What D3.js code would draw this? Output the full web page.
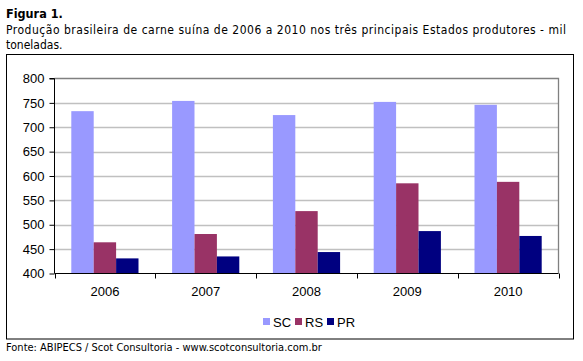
<!DOCTYPE html>
<html>
<head>
<meta charset="utf-8">
<script src="https://cdn.jsdelivr.net/npm/d3@7"></script>
<style>
  body { margin: 0; background: #fff; }
  svg { display: block; }
</style>
</head>
<body>
<svg id="chart" width="583" height="361"></svg>
<script>
const years = ["2006", "2007", "2008", "2009", "2010"];
const series = ["SC", "RS", "PR"];
const scValues = [733, 754, 725, 752, 746];
const rsValues = [464, 481, 528, 585, 588];
const prValues = [431, 435, 444, 487, 477];
const yTicks = [400, 450, 500, 550, 600, 650, 700, 750, 800];
const colors = ["#9999ff", "#993366", "#000080"];

const rows = years.map((year, i) => ({
    year,
    values: [scValues[i], rsValues[i], prValues[i]]
}));

const svg = d3.select("#chart");
const plot = { left: 54.5, right: 558.5, top: 78.5, bottom: 273.5 };

// heading text
svg.append("text")
    .attr("x", 6).attr("y", 18)
    .attr("font-family", "DejaVu Sans Condensed, DejaVu Sans, sans-serif")
    .attr("font-weight", "bold")
    .attr("font-size", 12.5)
    .attr("fill", "#000")
    .text("Figura 1.");

svg.append("text")
    .attr("x", 6).attr("y", 34)
    .attr("font-family", "DejaVu Sans Condensed, DejaVu Sans, sans-serif")
    .attr("font-size", 12)
    .attr("fill", "#000")
    .attr("textLength", 560)
    .attr("lengthAdjust", "spacing")
    .text("Produção brasileira de carne suína de 2006 a 2010 nos três principais Estados produtores - mil");

svg.append("text")
    .attr("x", 6).attr("y", 49)
    .attr("font-family", "DejaVu Sans Condensed, DejaVu Sans, sans-serif")
    .attr("font-size", 12)
    .attr("fill", "#000")
    .text("toneladas.");

// outer box
svg.append("rect")
    .attr("x", 6.5).attr("y", 54.5)
    .attr("width", 567).attr("height", 284.5)
    .attr("fill", "none")
    .attr("stroke", "#000")
    .attr("stroke-width", 1);

svg.append("text")
    .attr("x", 6).attr("y", 351)
    .attr("font-family", "DejaVu Sans Condensed, DejaVu Sans, sans-serif")
    .attr("font-size", 11)
    .attr("fill", "#000")
    .text("Fonte: ABIPECS / Scot Consultoria - www.scotconsultoria.com.br");

const x0 = d3.scaleBand().domain(years).range([plot.left, plot.right]).paddingInner(0).paddingOuter(0);
const bw = x0.bandwidth() / 4.5;
const x1 = d3.scaleBand().domain(series).range([bw * 0.75, bw * 3.75]);
const y = d3.scaleLinear().domain([400, 800]).range([plot.bottom, plot.top]);

// gridlines
svg.append("g")
    .selectAll("line")
    .data(yTicks.slice(1, -1))
    .join("line")
    .attr("x1", plot.left).attr("x2", plot.right)
    .attr("y1", d => Math.round(y(d)) + 0.5)
    .attr("y2", d => Math.round(y(d)) + 0.5)
    .attr("stroke", "#c0c0c0")
    .attr("stroke-width", 1.3);

// plot frame top/right
svg.append("path")
    .attr("d", `M${plot.left},${plot.top}H${plot.right}V${plot.bottom}`)
    .attr("fill", "none")
    .attr("stroke", "#808080")
    .attr("stroke-width", 1.3);

// bars
svg.append("g")
    .selectAll("g")
    .data(rows)
    .join("g")
    .attr("transform", d => `translate(${x0(d.year)},0)`)
    .selectAll("rect")
    .data(d => d.values.map((v, i) => ({ key: series[i], value: v, i })))
    .join("rect")
    .attr("x", d => x1(d.key))
    .attr("width", x1.bandwidth())
    .attr("y", d => y(d.value))
    .attr("height", d => plot.bottom - y(d.value))
    .attr("fill", d => colors[d.i]);

// y axis
const yAxis = svg.append("g")
    .attr("transform", `translate(${plot.left},0)`)
    .call(d3.axisLeft(y).tickValues(yTicks).tickSize(5).tickPadding(5).tickFormat(d3.format("d")));
yAxis.select(".domain").attr("stroke", "#000").attr("d", `M-5,${plot.top}H0V${plot.bottom}`);
yAxis.selectAll("text")
    .attr("font-family", "Liberation Sans, Arial, sans-serif")
    .attr("font-size", 13)
    .attr("fill", "#000");

// x axis
const xAxis = svg.append("g")
    .attr("transform", `translate(0,${plot.bottom})`)
    .call(d3.axisBottom(x0).tickSize(0).tickPadding(13));
xAxis.select(".domain").remove();
xAxis.append("line")
    .attr("x1", plot.left).attr("x2", plot.right)
    .attr("stroke", "#000");
xAxis.selectAll(".sep")
    .data(d3.range(years.length + 1))
    .join("line")
    .attr("class", "sep")
    .attr("x1", i => Math.round(plot.left + i * x0.bandwidth()) + 0.5)
    .attr("x2", i => Math.round(plot.left + i * x0.bandwidth()) + 0.5)
    .attr("y1", 0).attr("y2", 5)
    .attr("stroke", "#000");
xAxis.selectAll(".tick text")
    .attr("font-family", "Liberation Sans, Arial, sans-serif")
    .attr("font-size", 13)
    .attr("fill", "#000");

// legend
const legendX = [263, 295, 327];
const legend = svg.append("g")
    .selectAll("g")
    .data(series)
    .join("g")
    .attr("transform", (d, i) => `translate(${legendX[i]},318)`);
legend.append("rect")
    .attr("width", 7).attr("height", 7)
    .attr("fill", (d, i) => colors[i]);
legend.append("text")
    .attr("x", 10).attr("y", 8.5)
    .attr("font-family", "Liberation Sans, Arial, sans-serif")
    .attr("font-size", 13)
    .attr("fill", "#000")
    .text(d => d);
</script>
</body>
</html>
